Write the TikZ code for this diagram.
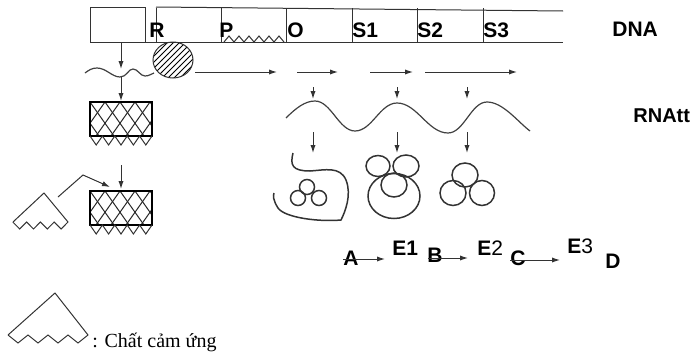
\documentclass[tikz,border=0pt]{standalone}
\usepackage{fontspec}
\setmainfont{Liberation Serif}
\setsansfont{Liberation Sans}
\usepackage{tikz}
\usetikzlibrary{arrows.meta,patterns}
\tikzset{
  net/.style={draw=black!80,line width=0.5pt},
  muiten/.style={net,-{Latex[length=4pt,width=2.6pt]}},
  khung/.style={draw=black,line width=0.8pt},
  luoi/.style={draw=black!85,line width=0.5pt},
  soi/.style={draw=black!75,line width=0.6pt},
  vong/.style={draw=black!80,line width=0.75pt},
  nhan/.style={font=\sffamily\bfseries\fontsize{10.5}{12}\selectfont,inner sep=0pt,anchor=base west},
  chu/.style={font=\fontsize{10}{12}\selectfont,inner sep=0pt,anchor=base west},
}
% khoi enzym: luoi cheo + rang cua ben duoi, goc tren trai (#1,#2)
\newcommand{\khoienzym}[2]{%
  \begin{scope}
    \clip (#1,#2) rectangle ++(62,34);
    \foreach \k in {-2,...,6} {
      \draw[luoi] ({#1+\k*15},#2) -- ++(24,34);
      \draw[luoi] ({#1+\k*15},#2) -- ++(-24,34);
    }
  \end{scope}
  \draw[khung] (#1,#2) rectangle ++(62,34);
  \draw[net] (#1,#2+34) \foreach \i in {1,...,5} { -- ++(6.2,9) -- ++(6.2,-9) };
}
\begin{document}
\begin{tikzpicture}[x=0.5pt,y=-0.5pt]
  \useasboundingbox (0,0) rectangle (696,354);

  % DNA
  \draw[net] (90,7) rectangle (145,42);
  \draw[net] (156,7) -- (563,11);
  \draw[net] (90,42) -- (563,42);
  \foreach \x in {156,221,286,352,417,483} \draw[net] (\x,8) -- (\x,42);
  \draw[net] (224,42) \foreach \i in {1,...,6} { -- ++(5,-6) -- ++(5,6) };
  \node[nhan] (nR) at (149,37) {R};
  \node[nhan] (nP) at (219,37) {P};
  \node[nhan] (nO) at (287,37) {O};
  \node[nhan] (nS1) at (352,37) {S1};
  \node[nhan] (nS2) at (417,37) {S2};
  \node[nhan] (nS3) at (483,37) {S3};
  \node[nhan] (nDNA) at (612,36) {DNA};

  % gen dieu hoa -> chat uc che
  \draw[muiten] (121,42) -- (121,69);
  \draw[soi] (85,73) .. controls (89,70) and (92,68) .. (97,68)
    .. controls (106,68) and (112,77) .. (120,77)
    .. controls (127,77) and (128,69) .. (133,69)
    .. controls (138,69) and (140,76) .. (145,76)
    .. controls (149,76) and (151,74) .. (154,73);
  \draw[net,pattern=north east lines] (173,60) ellipse [x radius=20, y radius=18];
  \draw[muiten] (121,77) -- (121,101);
  \khoienzym{90}{102}
  \draw[muiten] (121,165) -- (121,189);
  \khoienzym{90}{191}

  % chat cam ung
  \draw[net] (13,222) -- (44,193) -- (68,222)
    \foreach \i in {1,...,4} { -- ++(-6.9,7) -- ++(-6.9,-7) };
  \draw[muiten] (58,197) -- (83,175) -- (110,187);

  % phien ma
  \draw[muiten] (195,72) -- (277,72);
  \draw[muiten] (297,72) -- (338,72);
  \draw[muiten] (370,72) -- (413,72);
  \draw[muiten] (425,72) -- (517,72);
  \foreach \x in {313,397,467} {
    \draw[muiten] (\x,87) -- (\x,99);
    \draw[muiten] (\x,132) -- (\x,153);
  }
  \draw[soi] (286,118) .. controls (296,108) and (305,101) .. (315,101)
    .. controls (331,101) and (339,131) .. (355,131)
    .. controls (372,131) and (380,103) .. (397,103)
    .. controls (417,103) and (428,133) .. (448,133)
    .. controls (464,133) and (471,102) .. (487,102)
    .. controls (503,102) and (518,122) .. (530,131);
  \node[nhan,font=\sffamily\bfseries\fontsize{10}{12}\selectfont] (nRNA) at (633,122) {RNAtt};

  % cac enzym
  \draw[vong] (293,153) .. controls (290,165) and (292,171) .. (310,171)
    .. controls (325,170) and (340,166) .. (346,180)
    .. controls (352,195) and (345,212) .. (341,220)
    .. controls (320,222) and (285,218) .. (278,208)
    .. controls (273,200) and (273,196) .. (274,193);
  \draw[vong] (307,187) circle [radius=7.5];
  \draw[vong] (298,198) circle [radius=7.5];
  \draw[vong] (319,198) circle [radius=7.5];

  \draw[vong] (394,196) ellipse [x radius=26, y radius=22.5];
  \draw[vong] (378,166) ellipse [x radius=12, y radius=10.5];
  \draw[vong] (406,166) ellipse [x radius=13, y radius=11];
  \draw[vong] (394,185) ellipse [x radius=13, y radius=12];

  \draw[vong] (465,175) ellipse [x radius=13, y radius=12];
  \draw[vong] (453,193) ellipse [x radius=13, y radius=12.5];
  \draw[vong] (482,193) ellipse [x radius=12.5, y radius=12.5];

  % chuoi phan ung
  \node[nhan] (nA) at (343,265) {A};
  \node[nhan] (nE1) at (392,255) {E1};
  \node[nhan] (nB) at (427,262) {B};
  \node[nhan] (nE2) at (477,255) {E\textmd{2}};
  \node[nhan] (nC) at (510,265) {C};
  \node[nhan] (nE3) at (567,253) {E\textmd{3}};
  \node[nhan] (nD) at (605,268) {D};
  \draw[muiten] (343,259) -- (385,259);
  \draw[muiten] (428,258) -- (468,258);
  \draw[muiten] (510,260) -- (560,260);

  % chu thich
  \draw[net] (8,335) -- (55,293) -- (88,335)
    \foreach \i in {1,...,4} { -- ++(-10,8) -- ++(-10,-8) };
  \node[chu] (nChu) at (92,347) {: Chất cảm ứng};
\end{tikzpicture}
\end{document}
